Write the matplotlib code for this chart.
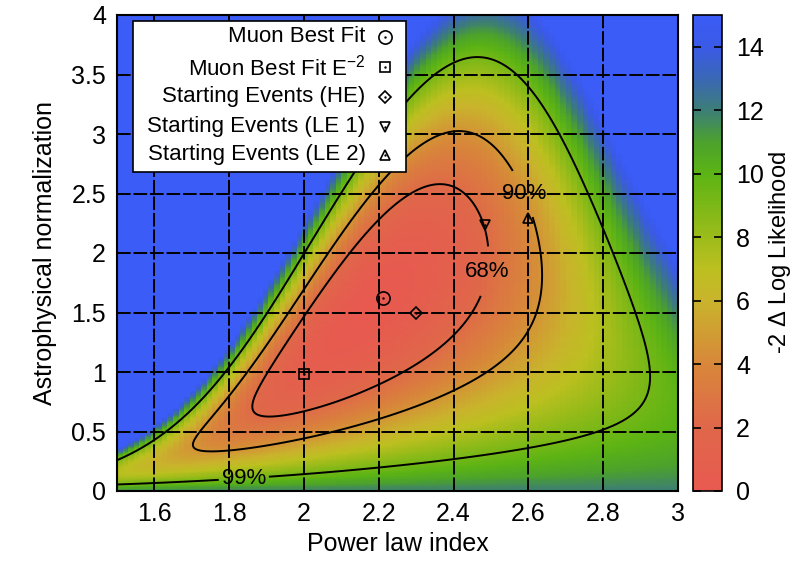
import numpy as np
import matplotlib
matplotlib.use('Agg')
import matplotlib.pyplot as plt
from matplotlib.colors import LinearSegmentedColormap
from matplotlib.ticker import FuncFormatter

plt.rcParams['font.family'] = ['Liberation Sans', 'DejaVu Sans']
plt.rcParams['mathtext.fontset'] = 'custom'
plt.rcParams['mathtext.rm'] = 'Liberation Sans'
plt.rcParams['mathtext.it'] = 'Liberation Sans'
plt.rcParams['xtick.direction'] = 'in'
plt.rcParams['ytick.direction'] = 'in'

# flux constraints per energy band (log energy relative to pivot, flux, error)
band_log_energy = np.array([-1.5846, 1.2527, 3.9104])
band_flux = np.array([0.4126, 1.3359, 0.6160])
band_error = np.array([2.7983, 0.4003, 0.5341])

# confidence levels for 2 dof
cl_levels = [2.30, 4.61, 9.21]
cl_names = ['68%', '90%', '99%']
cl_label_pos = [(2.52, 1.83), (2.61, 2.53), (1.84, 0.06)]

# best fit points
fit_names = ['Muon Best Fit', 'Muon Best Fit E$^{-2}$', 'Starting Events (HE)',
             'Starting Events (LE 1)', 'Starting Events (LE 2)']
fit_index = [2.21, 2.0, 2.30, 2.485, 2.60]
fit_norm = [1.62, 0.98, 1.50, 2.235, 2.29]
fit_marker = ['o', 's', 'D', 'v', '^']
fit_size = [9.5, 7, 6.5, 6.5, 6.5]


def neg2logl(gamma, norm):
    a = np.exp(-(gamma[..., None] - 2.0) * band_log_energy)
    return (((norm[..., None] * a - band_flux) / band_error) ** 2).sum(-1)


# profile over the normalization to find the global minimum
gprof = np.linspace(1.0, 4.0, 3001)
A = np.exp(-(gprof[:, None] - 2.0) * band_log_energy)
nprof = (A * band_flux / band_error**2).sum(1) / (A**2 / band_error**2).sum(1)
chi_min = neg2logl(gprof, nprof).min()

# coarse cells for the colour map
gc = np.arange(1.5 + 0.0075, 3.0, 0.015)
nc = np.arange(0.005, 4.0, 0.01)
GC, NC = np.meshgrid(gc, nc)
Zc = neg2logl(GC, NC) - chi_min

# fine grid for the contour lines
gf = np.linspace(1.5, 3.0, 601)
nf = np.linspace(0.0, 4.0, 801)
GF, NF = np.meshgrid(gf, nf)
Zf = neg2logl(GF, NF) - chi_min

cmap = LinearSegmentedColormap.from_list('llh', [
    (0 / 15, '#e85a50'), (2 / 15, '#e0674a'), (4 / 15, '#d8873a'),
    (6 / 15, '#c9b42c'), (7 / 15, '#bcc020'), (8 / 15, '#9cbc1a'),
    (10 / 15, '#5cb414'), (11 / 15, '#4ca22c'), (12 / 15, '#3d7e76'),
    (13 / 15, '#3a68b4'), (14 / 15, '#3a5ae6'), (15 / 15, '#3b5cf6')])

fig = plt.figure(figsize=(8, 5.63), dpi=100)
ax = fig.add_axes([117 / 800, 72 / 563, 561 / 800, 476 / 563])
cax = fig.add_axes([693 / 800, 72 / 563, 29 / 800, 476 / 563])

im = ax.imshow(Zc, origin='lower', extent=[1.5, 3.0, 0, 4], aspect='auto',
               cmap=cmap, vmin=0, vmax=15, interpolation='nearest')

cs = ax.contour(GF, NF, Zf, cl_levels, colors='k', linewidths=1.4)
labels = ax.clabel(cs, fmt=dict(zip(cl_levels, cl_names)), manual=cl_label_pos,
                   inline=True, inline_spacing=3, fontsize=16)
for t in labels:
    t.set_rotation(0)

for x, y, m, s in zip(fit_index, fit_norm, fit_marker, fit_size):
    ax.plot(x, y, marker=m, ms=s, mfc='none', mec='k', mew=1.2, ls='none', zorder=5)
    ax.plot(x, y, marker='.', ms=1.5, color='k', ls='none', zorder=5)

ax.set_xlim(1.5, 3.0)
ax.set_ylim(0, 4)
ax.set_xticks([1.6, 1.8, 2.0, 2.2, 2.4, 2.6, 2.8, 3.0])
ax.set_yticks(np.arange(0, 4.01, 0.5))
fmt = FuncFormatter(lambda v, p: '%g' % round(v, 2))
ax.xaxis.set_major_formatter(fmt)
ax.yaxis.set_major_formatter(fmt)
ax.tick_params(labelsize=18, length=0, pad=8)
ax.grid(True, color='k', linestyle=(0, (7, 1.5)), linewidth=1.4)
for sp in ax.spines.values():
    sp.set_linewidth(1.5)
ax.set_xlabel('Power law index', fontsize=18, labelpad=4)
ax.set_ylabel('Astrophysical normalization', fontsize=18, labelpad=10)

# legend box, gnuplot style: right-aligned text with symbol on the right
ax.add_patch(plt.Rectangle((0.0285, 0.670), 0.4865, 0.317, transform=ax.transAxes,
                           facecolor='w', edgecolor='k', linewidth=1.2, zorder=6))
row_y = [0.954, 0.890, 0.828, 0.765, 0.706]
for name, m, s, yy in zip(fit_names, fit_marker, fit_size, row_y):
    ax.text(0.443, yy, name, transform=ax.transAxes, ha='right', va='center',
            fontsize=16, zorder=7)
    ax.plot(0.478, yy, marker=m, ms=s, mfc='none', mec='k', mew=1.2,
            transform=ax.transAxes, zorder=7, clip_on=False)
    ax.plot(0.478, yy, marker='.', ms=1.5, color='k', transform=ax.transAxes, zorder=7)

cb = fig.colorbar(im, cax=cax, ticks=np.arange(0, 15, 2))
cb.outline.set_linewidth(1.2)
cax.tick_params(labelsize=18, direction='in', length=6, width=1.2,
                left=True, right=True, pad=10)
cb.set_label('-2 $\\Delta$ Log Likelihood', fontsize=17, labelpad=2)

fig.savefig('out.png', dpi=100)
